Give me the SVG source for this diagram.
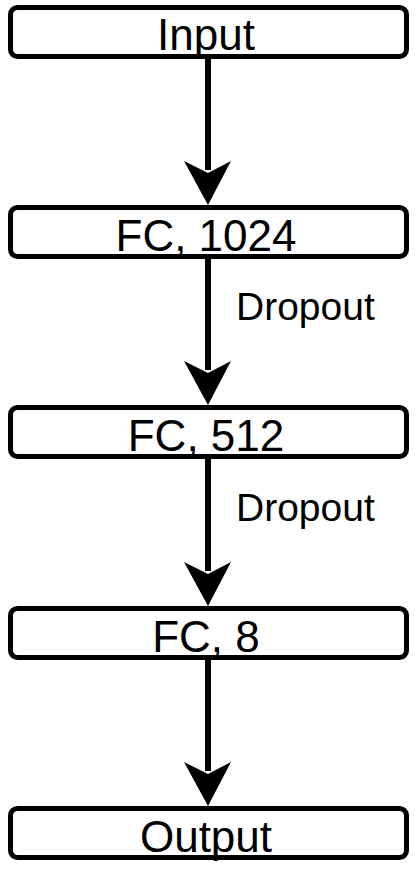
<svg xmlns="http://www.w3.org/2000/svg" width="415" height="872" viewBox="0 0 415 872">
<style>
.box{fill:#fff;stroke:#000;stroke-width:5}
.lbl{font-family:"Liberation Sans",Arial,sans-serif;font-size:44px;fill:#000;text-anchor:middle}
.edge{font-family:"Liberation Sans",Arial,sans-serif;font-size:39px;fill:#000}
.conn{stroke:#000;stroke-width:6;fill:none}
.head{fill:#000}
</style>
<rect width="415" height="872" fill="#fff"/>
<g id="connectors">
<line class="conn" x1="208" y1="59" x2="208" y2="170"/>
<path class="head" d="M208,205 L184,161 L208,173 L231,161 Z"/>
<line class="conn" x1="208" y1="259" x2="208" y2="370"/>
<path class="head" d="M208,405 L184,361 L208,373 L231,361 Z"/>
<text class="edge" x="236" y="320">Dropout</text>
<line class="conn" x1="208" y1="459" x2="208" y2="571"/>
<path class="head" d="M208,606 L184,562 L208,574 L231,562 Z"/>
<text class="edge" x="236" y="521">Dropout</text>
<line class="conn" x1="208" y1="660" x2="208" y2="771"/>
<path class="head" d="M208,806 L184,762 L208,774 L231,762 Z"/>
</g>
<g id="input">
<rect class="box" x="10.5" y="7.5" width="396" height="49" rx="7"/>
<text class="lbl" x="206" y="50">Input</text>
</g>
<g id="fc1024">
<rect class="box" x="10.5" y="207.5" width="396" height="49" rx="7"/>
<text class="lbl" x="206" y="251">FC, 1024</text>
</g>
<g id="fc512">
<rect class="box" x="10.5" y="407.5" width="396" height="49" rx="7"/>
<text class="lbl" x="206" y="451">FC, 512</text>
</g>
<g id="fc8">
<rect class="box" x="10.5" y="608.5" width="396" height="49" rx="7"/>
<text class="lbl" x="206" y="652">FC, 8</text>
</g>
<g id="output">
<rect class="box" x="10.5" y="808.5" width="396" height="49" rx="7"/>
<text class="lbl" x="206" y="852">Output</text>
</g>
</svg>
